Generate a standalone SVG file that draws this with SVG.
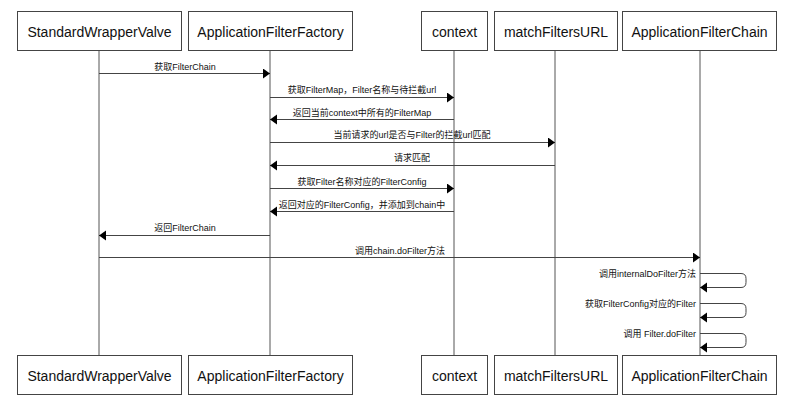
<svg xmlns="http://www.w3.org/2000/svg" width="787" height="407" viewBox="0 0 787 407">
<style>
.box{fill:#fff;stroke:#444;stroke-width:1}
.name{font-family:"Liberation Sans","Noto Sans CJK SC",sans-serif;font-size:14px;fill:#111;text-anchor:middle}
.life{stroke:#555;stroke-width:1;fill:none}
.msg{stroke:#444;stroke-width:1;fill:none;marker-end:url(#ah)}
.lbl{font-family:"Liberation Sans","Noto Sans CJK SC",sans-serif;font-size:9px;fill:#111;text-anchor:middle}
.lblr{font-family:"Liberation Sans","Noto Sans CJK SC",sans-serif;font-size:9px;fill:#111;text-anchor:end}
</style>
<defs>
<marker id="ah" markerUnits="userSpaceOnUse" markerWidth="8" markerHeight="11" refX="7" refY="5" orient="auto">
<path d="M0,0 L7,5 L0,10 z" fill="#000"/>
</marker>
</defs>
<rect width="787" height="407" fill="#fff"/>
<g id="lifelines">
<line class="life" x1="99" y1="50" x2="99" y2="355"/>
<line class="life" x1="270" y1="50" x2="270" y2="355"/>
<line class="life" x1="454" y1="50" x2="454" y2="355"/>
<line class="life" x1="555" y1="50" x2="555" y2="355"/>
<line class="life" x1="700" y1="50" x2="700" y2="355"/>
</g>
<g id="StandardWrapperValve">
<rect class="box" x="17.5" y="11.5" width="164" height="39"/>
<text class="name" x="99.5" y="37">StandardWrapperValve</text>
<rect class="box" x="17.5" y="355.5" width="164" height="39"/>
<text class="name" x="99.5" y="381">StandardWrapperValve</text>
</g>
<g id="ApplicationFilterFactory">
<rect class="box" x="188.5" y="11.5" width="164" height="39"/>
<text class="name" x="270.5" y="37">ApplicationFilterFactory</text>
<rect class="box" x="188.5" y="355.5" width="164" height="39"/>
<text class="name" x="270.5" y="381">ApplicationFilterFactory</text>
</g>
<g id="context">
<rect class="box" x="421.5" y="11.5" width="66" height="39"/>
<text class="name" x="454.5" y="37">context</text>
<rect class="box" x="421.5" y="355.5" width="66" height="39"/>
<text class="name" x="454.5" y="381">context</text>
</g>
<g id="matchFiltersURL">
<rect class="box" x="494.5" y="11.5" width="123" height="39"/>
<text class="name" x="556" y="37">matchFiltersURL</text>
<rect class="box" x="494.5" y="355.5" width="123" height="39"/>
<text class="name" x="556" y="381">matchFiltersURL</text>
</g>
<g id="ApplicationFilterChain">
<rect class="box" x="622.5" y="11.5" width="154" height="39"/>
<text class="name" x="699.5" y="37">ApplicationFilterChain</text>
<rect class="box" x="622.5" y="355.5" width="154" height="39"/>
<text class="name" x="699.5" y="381">ApplicationFilterChain</text>
</g>
<g id="connectors">
<line class="msg" x1="99" y1="73.5" x2="270" y2="73.5"/>
<text class="lbl" x="185" y="70">获取FilterChain</text>
<line class="msg" x1="270" y1="97.5" x2="454" y2="97.5"/>
<text class="lbl" x="362" y="93">获取FilterMap，Filter名称与待拦截url</text>
<line class="msg" x1="454" y1="119.5" x2="270" y2="119.5"/>
<text class="lbl" x="362" y="116">返回当前context中所有的FilterMap</text>
<line class="msg" x1="270" y1="142.5" x2="555" y2="142.5"/>
<text class="lbl" x="412" y="138">当前请求的url是否与Filter的拦截url匹配</text>
<line class="msg" x1="555" y1="165.5" x2="270" y2="165.5"/>
<text class="lbl" x="412" y="161">请求匹配</text>
<line class="msg" x1="270" y1="188.5" x2="454" y2="188.5"/>
<text class="lbl" x="362" y="185">获取Filter名称对应的FilterConfig</text>
<line class="msg" x1="454" y1="211.5" x2="270" y2="211.5"/>
<text class="lbl" x="362" y="208">返回对应的FilterConfig，并添加到chain中</text>
<line class="msg" x1="270" y1="235.5" x2="99" y2="235.5"/>
<text class="lbl" x="185" y="231">返回FilterChain</text>
<line class="msg" x1="99" y1="257.5" x2="700" y2="257.5"/>
<text class="lbl" x="400" y="254">调用chain.doFilter方法</text>
<path class="msg" d="M700,273.5 H741 Q746,273.5 746,278.5 V282.5 Q746,287.5 741,287.5 H700"/>
<text class="lblr" x="696" y="277">调用internalDoFilter方法</text>
<path class="msg" d="M700,303.5 H741 Q746,303.5 746,308.5 V312.5 Q746,317.5 741,317.5 H700"/>
<text class="lblr" x="696" y="307">获取FilterConfig对应的Filter</text>
<path class="msg" d="M700,333.5 H741 Q746,333.5 746,338.5 V342.5 Q746,347.5 741,347.5 H700"/>
<text class="lblr" x="696" y="337">调用 Filter.doFilter</text>
</g>
</svg>
